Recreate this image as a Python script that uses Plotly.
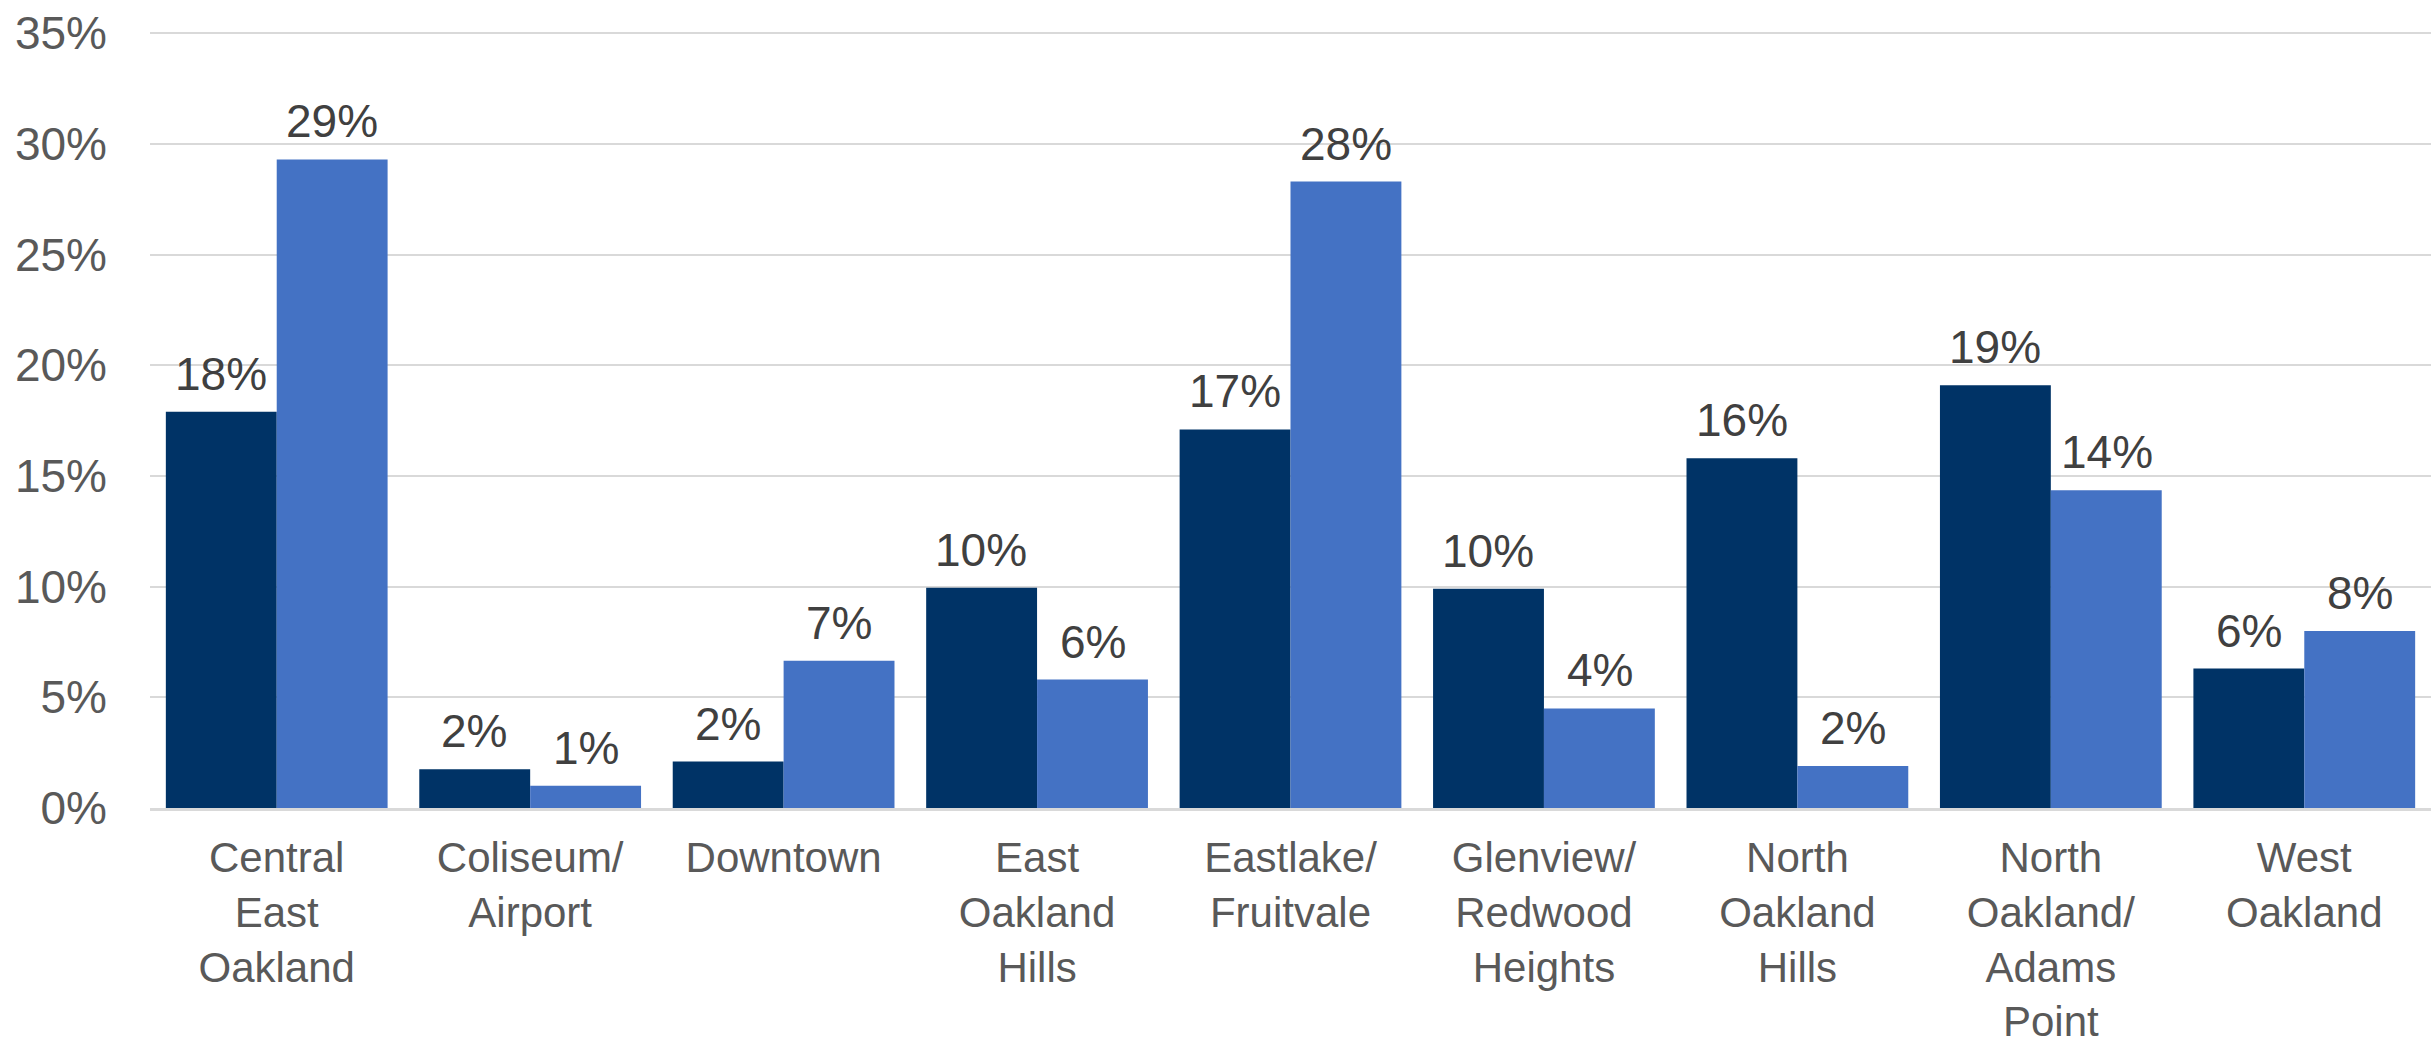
import plotly.graph_objects as go

categories = ["Central<br>East<br>Oakland", "Coliseum/<br>Airport", "Downtown", "East<br>Oakland<br>Hills",
              "Eastlake/<br>Fruitvale", "Glenview/<br>Redwood<br>Heights", "North<br>Oakland<br>Hills",
              "North<br>Oakland/<br>Adams<br>Point", "West<br>Oakland"]
series_a = [17.9, 1.75, 2.1, 9.95, 17.1, 9.9, 15.8, 19.1, 6.3]
series_b = [29.3, 1.0, 6.65, 5.8, 28.3, 4.5, 1.9, 14.35, 8.0]
y_ticks = [0, 5, 10, 15, 20, 25, 30, 35]
y_tick_labels = [f"{t}%" for t in y_ticks]

dark = "#003366"
light = "#4472C4"
font_family = "Liberation Sans, Arial, sans-serif"

fig = go.Figure()
fig.add_trace(go.Bar(x=categories, y=series_a, marker=dict(color=dark, line=dict(width=0)), name="A"))
fig.add_trace(go.Bar(x=categories, y=series_b, marker=dict(color=light, line=dict(width=0)), name="B"))

annotations = []
for i, cat in enumerate(categories):
    for val, xs in ((series_a[i], -0.22), (series_b[i], 0.22)):
        annotations.append(dict(x=i + xs, y=val, xref="x", yref="y", text=f"{round(val):d}%",
                                showarrow=False, yanchor="bottom", yshift=10,
                                font=dict(size=46, color="#404040", family=font_family)))

fig.update_layout(
    width=2431, height=1048,
    margin=dict(l=150, r=0, t=31, b=240),
    paper_bgcolor="white", plot_bgcolor="white",
    barmode="group", bargap=0.125, bargroupgap=0,
    showlegend=False,
    annotations=annotations,
    font=dict(family=font_family, size=46, color="#595959"),
)
fig.update_xaxes(showgrid=False, showline=True, linecolor="#D9D9D9", linewidth=3,
                 tickfont=dict(size=42, color="#595959", family=font_family),
                 ticks="", ticklabelstandoff=11, automargin=False)
fig.update_yaxes(range=[0, 35.1], tickvals=y_ticks, ticktext=y_tick_labels,
                 showgrid=True, gridcolor="#D9D9D9", gridwidth=2, zeroline=False,
                 tickfont=dict(size=46, color="#595959", family=font_family),
                 ticklabelstandoff=42, showline=False, automargin=False)

fig.write_html("out.html", config={"displayModeBar": False},
               post_script="document.body.style.margin='0';document.body.style.overflow='hidden';")
